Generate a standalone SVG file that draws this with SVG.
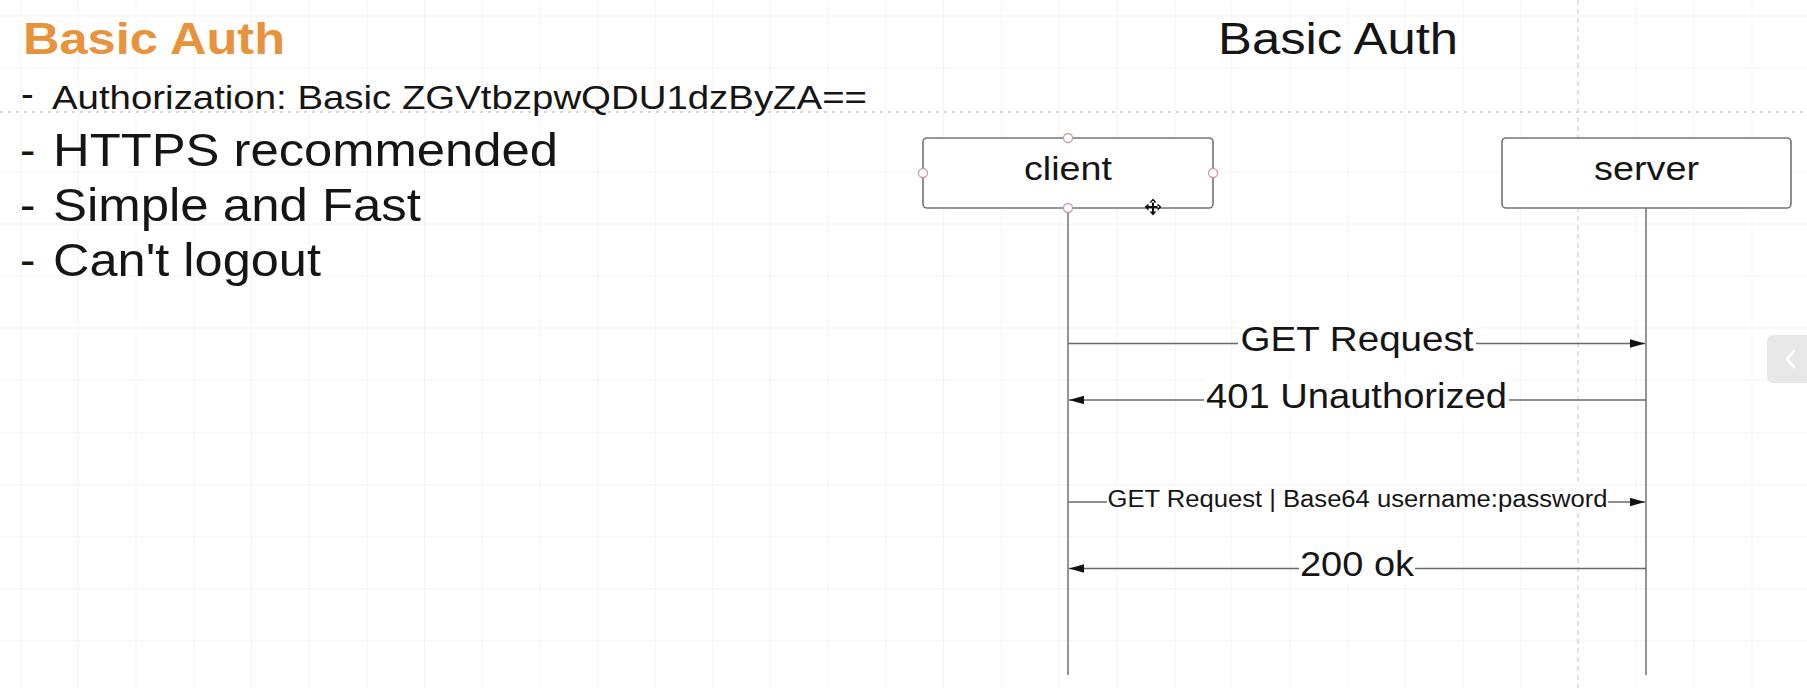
<svg xmlns="http://www.w3.org/2000/svg" width="1807" height="688" viewBox="0 0 1807 688">
<defs>
<style>
.t{font-family:"Liberation Sans",Arial,sans-serif;fill:#151515}
.grid line{stroke:#f3f3f3;stroke-width:1}
.box{fill:#ffffff;stroke:#747474;stroke-width:1.6}
.life{stroke:#7a7a7a;stroke-width:1.6}
.msg{stroke:#6a6a6a;stroke-width:1.6;fill:none}
.lbl{fill:#ffffff}
.port{fill:#ffffff;stroke:#d39aa4;stroke-width:1.3}
</style>
<marker id="ah" markerUnits="userSpaceOnUse" markerWidth="16" markerHeight="9" refX="15" refY="4.2" orient="auto">
<path d="M0,0 L15,4.2 L0,8.4 Z" fill="#111"/>
</marker>
</defs>
<rect width="1807" height="688" fill="#ffffff"/>
<g class="grid">
<line x1="21" y1="0" x2="21" y2="688"/><line x1="78.6" y1="0" x2="78.6" y2="688"/><line x1="136" y1="0" x2="136" y2="688"/><line x1="194" y1="0" x2="194" y2="688"/><line x1="251.6" y1="0" x2="251.6" y2="688"/><line x1="309" y1="0" x2="309" y2="688"/><line x1="367" y1="0" x2="367" y2="688"/><line x1="424.6" y1="0" x2="424.6" y2="688"/><line x1="482" y1="0" x2="482" y2="688"/><line x1="540" y1="0" x2="540" y2="688"/><line x1="597.6" y1="0" x2="597.6" y2="688"/><line x1="655" y1="0" x2="655" y2="688"/><line x1="713" y1="0" x2="713" y2="688"/><line x1="770.6" y1="0" x2="770.6" y2="688"/><line x1="828" y1="0" x2="828" y2="688"/><line x1="886" y1="0" x2="886" y2="688"/><line x1="943.6" y1="0" x2="943.6" y2="688"/><line x1="1001.3" y1="0" x2="1001.3" y2="688"/><line x1="1059" y1="0" x2="1059" y2="688"/><line x1="1116.7" y1="0" x2="1116.7" y2="688"/><line x1="1175" y1="0" x2="1175" y2="688"/><line x1="1231.7" y1="0" x2="1231.7" y2="688"/><line x1="1290" y1="0" x2="1290" y2="688"/><line x1="1348" y1="0" x2="1348" y2="688"/><line x1="1405" y1="0" x2="1405" y2="688"/><line x1="1463" y1="0" x2="1463" y2="688"/><line x1="1521" y1="0" x2="1521" y2="688"/><line x1="1636" y1="0" x2="1636" y2="688"/><line x1="1694" y1="0" x2="1694" y2="688"/><line x1="1752" y1="0" x2="1752" y2="688"/>
<line x1="0" y1="16" x2="1807" y2="16"/><line x1="0" y1="68" x2="1807" y2="68"/><line x1="0" y1="172" x2="1807" y2="172"/><line x1="0" y1="224" x2="1807" y2="224"/><line x1="0" y1="276" x2="1807" y2="276"/><line x1="0" y1="328" x2="1807" y2="328"/><line x1="0" y1="380" x2="1807" y2="380"/><line x1="0" y1="433" x2="1807" y2="433"/><line x1="0" y1="485" x2="1807" y2="485"/><line x1="0" y1="537" x2="1807" y2="537"/><line x1="0" y1="589" x2="1807" y2="589"/><line x1="0" y1="641" x2="1807" y2="641"/>
</g>
<line x1="0" y1="112" x2="1807" y2="112" stroke="#cbcbcb" stroke-width="1.5" stroke-dasharray="3 5"/>
<line x1="1578" y1="0" x2="1578" y2="688" stroke="#d6d6d6" stroke-width="1.5" stroke-dasharray="5 4"/>

<g id="notes">
<text class="t" x="23" y="54" font-size="44" font-weight="bold" style="fill:#E8933B" textLength="262" lengthAdjust="spacingAndGlyphs">Basic Auth</text>
<text class="t" x="21" y="107" font-size="38">-</text>
<text class="t" x="52" y="109" font-size="34" textLength="815" lengthAdjust="spacingAndGlyphs">Authorization: Basic ZGVtbzpwQDU1dzByZA==</text>
<text class="t" x="20" y="166" font-size="46">-</text>
<text class="t" x="53" y="166" font-size="46" textLength="505" lengthAdjust="spacingAndGlyphs">HTTPS recommended</text>
<text class="t" x="20" y="220.5" font-size="46">-</text>
<text class="t" x="53" y="220.5" font-size="46" textLength="368" lengthAdjust="spacingAndGlyphs">Simple and Fast</text>
<text class="t" x="20" y="276" font-size="46">-</text>
<text class="t" x="53" y="276" font-size="46" textLength="268" lengthAdjust="spacingAndGlyphs">Can't logout</text>
</g>

<g id="title">
<text class="t" x="1218" y="54" font-size="44" textLength="240" lengthAdjust="spacingAndGlyphs">Basic Auth</text>
</g>

<g id="lifelines">
<line class="life" x1="1068" y1="208" x2="1068" y2="675"/>
<line class="life" x1="1646" y1="208" x2="1646" y2="675"/>
</g>

<g id="connectors">
<line class="msg" x1="1068" y1="343.5" x2="1645" y2="343.5" marker-end="url(#ah)"/>
<rect class="lbl" x="1238" y="322" width="238" height="36"/>
<text class="t" x="1357" y="351" font-size="34.5" text-anchor="middle" textLength="233" lengthAdjust="spacingAndGlyphs">GET Request</text>

<line class="msg" x1="1646" y1="400" x2="1069" y2="400" marker-end="url(#ah)"/>
<rect class="lbl" x="1204" y="379" width="305" height="36"/>
<text class="t" x="1356.5" y="407.5" font-size="34.5" text-anchor="middle" textLength="301" lengthAdjust="spacingAndGlyphs">401 Unauthorized</text>

<line class="msg" x1="1068" y1="502" x2="1645" y2="502" marker-end="url(#ah)"/>
<rect class="lbl" x="1107" y="486" width="501" height="26"/>
<text class="t" x="1357.5" y="506.5" font-size="23" text-anchor="middle" textLength="500" lengthAdjust="spacingAndGlyphs">GET Request | Base64 username:password</text>

<line class="msg" x1="1646" y1="568.5" x2="1069" y2="568.5" marker-end="url(#ah)"/>
<rect class="lbl" x="1299" y="548" width="116" height="36"/>
<text class="t" x="1357" y="576" font-size="34.5" text-anchor="middle" textLength="114" lengthAdjust="spacingAndGlyphs">200 ok</text>
</g>

<g id="client">
<rect class="box" x="923" y="138" width="290" height="70" rx="4"/>
<text class="t" x="1068" y="180" font-size="33.5" text-anchor="middle" textLength="88" lengthAdjust="spacingAndGlyphs">client</text>
<circle class="port" cx="1068" cy="138" r="4.5"/>
<circle class="port" cx="1068" cy="208" r="4.5"/>
<circle class="port" cx="923" cy="173" r="4.5"/>
<circle class="port" cx="1213" cy="173" r="4.5"/>
<path d="M1147,206 H1159 V208 H1147 Z M1152,201 H1154 V213 H1152 Z M1153,198.5 L1149.5,202.5 H1156.5 Z M1153,215.5 L1149.5,211.5 H1156.5 Z M1144.5,207 L1148.5,203.5 V210.5 Z M1161.5,207 L1157.5,203.5 V210.5 Z" fill="#111"/>
</g>

<g id="server">
<rect class="box" x="1502" y="138" width="289" height="70" rx="4"/>
<text class="t" x="1646.5" y="180" font-size="33.5" text-anchor="middle" textLength="105" lengthAdjust="spacingAndGlyphs">server</text>
</g>

<g id="side-button">
<rect x="1767" y="335" width="50" height="48" rx="6" fill="#e7e7e7"/>
<polyline points="1794,351 1787,359 1794,367" fill="none" stroke="#ffffff" stroke-width="3" stroke-linecap="round" stroke-linejoin="round"/>
</g>
</svg>
